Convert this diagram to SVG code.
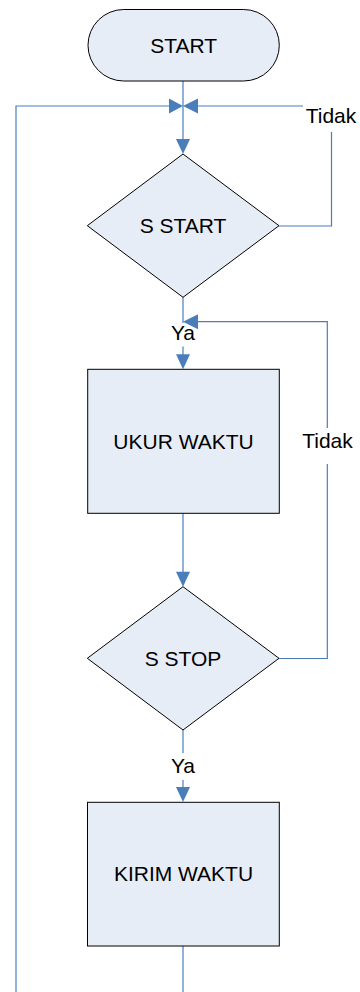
<svg xmlns="http://www.w3.org/2000/svg" width="360" height="992" viewBox="0 0 360 992">
<style>
.node{fill:#e7edf7;stroke:#000;stroke-width:1}
.lbl{font-family:"Liberation Sans",Arial,sans-serif;font-size:21px;fill:#000;text-anchor:middle}
.conn{fill:none;stroke:#4a7ebb;stroke-width:1.2}
.ah{fill:#4a7ebb;stroke:none}
</style>
<defs>
<polygon id="adown" class="ah" points="-7,-15 7,-15 0,0"/>
</defs>
<rect x="0" y="0" width="360" height="992" fill="#fff"/>
<g id="connectors">
<line class="conn" x1="183" y1="81" x2="183" y2="142"/>
<path class="conn" d="M16,992 V106 H172"/>
<path class="conn" d="M279,226 H331.5 V132"/>
<line class="conn" x1="303" y1="106" x2="194" y2="106"/>
<line class="conn" x1="183" y1="297" x2="183" y2="323"/>
<line class="conn" x1="183" y1="346.5" x2="183" y2="357"/>
<path class="conn" d="M279,658.5 H327.3 V464"/>
<path class="conn" d="M327.3,428 V321.7 H194"/>
<line class="conn" x1="183" y1="513" x2="183" y2="575"/>
<line class="conn" x1="183" y1="730" x2="183" y2="753"/>
<line class="conn" x1="183" y1="780" x2="183" y2="790"/>
<line class="conn" x1="183" y1="946" x2="183" y2="992"/>
<polygon class="ah" points="169,98.5 169,113.5 183,106"/>
<polygon class="ah" points="198,98.5 198,113.5 183,106"/>
<polygon class="ah" points="198,314.2 198,329.2 183,321.7"/>
<use href="#adown" x="183" y="154"/>
<use href="#adown" x="183" y="369.3"/>
<use href="#adown" x="183" y="586.7"/>
<use href="#adown" x="183" y="802"/>
<text class="lbl" x="331" y="123.3">Tidak</text>
<text class="lbl" x="327.5" y="447.7">Tidak</text>
<text class="lbl" x="183" y="340">Ya</text>
<text class="lbl" x="183" y="773">Ya</text>
</g>
<g id="start">
<rect class="node" x="88" y="9.5" width="191.3" height="71.5" rx="35.75"/>
<text class="lbl" x="183.6" y="52.7">START</text>
</g>
<g id="s_start">
<polygon class="node" points="183,154 279,225.7 183,297.3 87.3,225.7"/>
<text class="lbl" x="183" y="233">S START</text>
</g>
<g id="ukur_waktu">
<rect class="node" x="87.7" y="369.3" width="191.6" height="144"/>
<text class="lbl" x="183.5" y="448.5">UKUR WAKTU</text>
</g>
<g id="s_stop">
<polygon class="node" points="183,586.7 279,658.3 183,730 87.3,658.3"/>
<text class="lbl" x="183" y="665.5">S STOP</text>
</g>
<g id="kirim_waktu">
<rect class="node" x="87.5" y="802.3" width="191.8" height="143.7"/>
<text class="lbl" x="183.5" y="881">KIRIM WAKTU</text>
</g>
</svg>
